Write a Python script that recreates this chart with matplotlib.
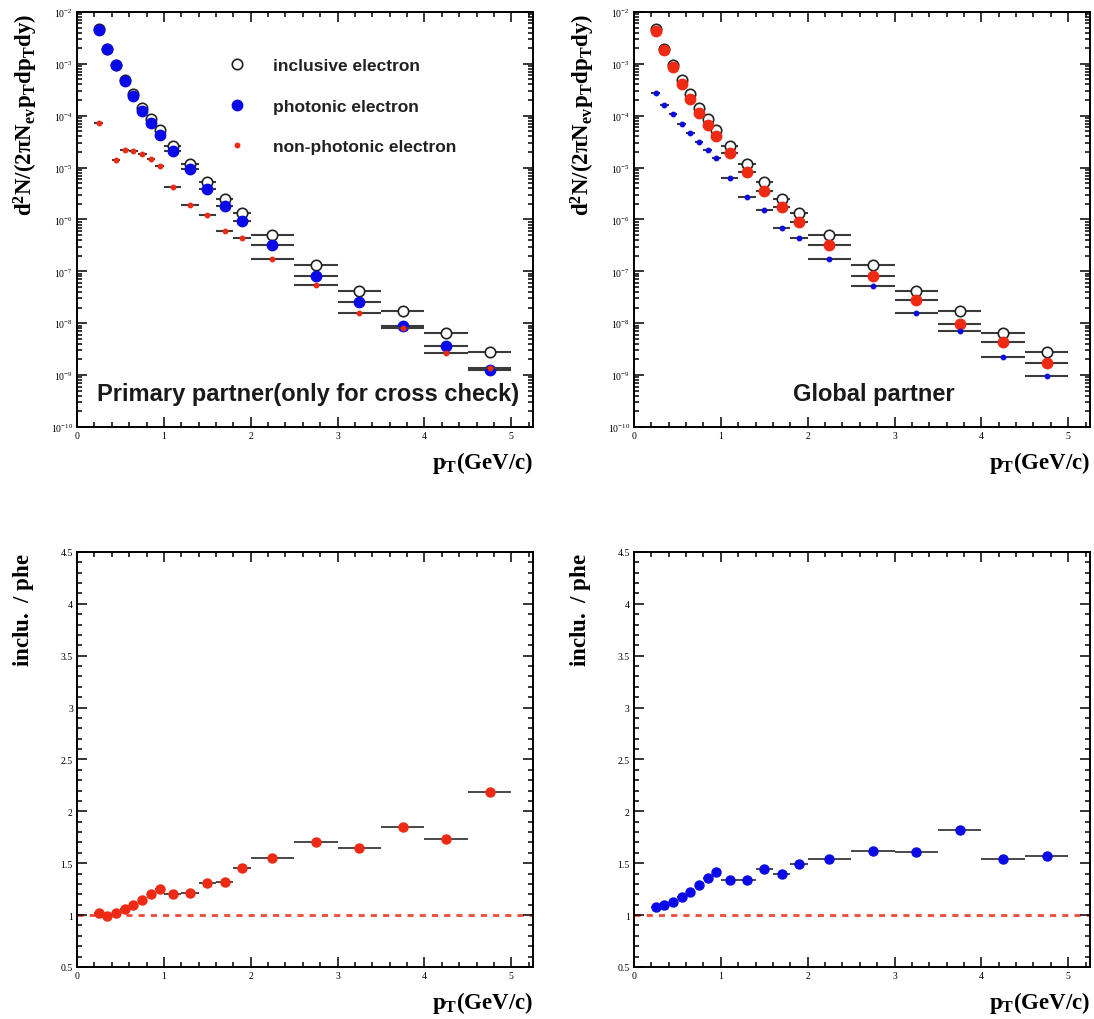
import numpy as np
import matplotlib
matplotlib.use("Agg")
import matplotlib.pyplot as plt
from matplotlib.lines import Line2D
from matplotlib.ticker import LogLocator, LogFormatterSciNotation, MultipleLocator, NullFormatter

plt.rcParams["mathtext.fontset"] = "custom"
plt.rcParams["mathtext.rm"] = "Liberation Serif:bold"
plt.rcParams["mathtext.it"] = "Liberation Serif:bold"
plt.rcParams["mathtext.bf"] = "Liberation Serif:bold"

# pT bin centres and half widths (GeV/c)
pt = [0.25, 0.35, 0.45, 0.55, 0.65, 0.75, 0.85, 0.95, 1.1, 1.3, 1.5, 1.7, 1.9,
      2.25, 2.75, 3.25, 3.75, 4.25, 4.75]
pt_half = [0.05, 0.05, 0.05, 0.05, 0.05, 0.05, 0.05, 0.05, 0.1, 0.1, 0.1, 0.1, 0.1,
           0.25, 0.25, 0.25, 0.25, 0.25, 0.25]

# spectra d2N/(2pi Nev pT dpT dy)
inclusive = [4.6e-3, 1.95e-3, 9.5e-4, 4.8e-4, 2.65e-4, 1.42e-4, 8.6e-5, 5.3e-5, 2.6e-5,
             1.15e-5, 5.3e-6, 2.5e-6, 1.32e-6, 5.0e-7, 1.35e-7, 4.2e-8, 1.7e-8, 6.6e-9, 2.8e-9]
phe_primary = [4.5e-3, 1.9e-3, 9.3e-4, 4.6e-4, 2.45e-4, 1.26e-4, 7.3e-5, 4.3e-5, 2.1e-5,
               9.2e-6, 3.9e-6, 1.85e-6, 9.2e-7, 3.2e-7, 8.1e-8, 2.6e-8, 8.8e-9, 3.7e-9, 1.28e-9]
npe_primary = [7.2e-5, np.nan, 1.4e-5, 2.2e-5, 2.05e-5, 1.8e-5, 1.47e-5, 1.05e-5, 4.2e-6,
               1.86e-6, 1.23e-6, 5.9e-7, 4.3e-7, 1.74e-7, 5.5e-8, 1.58e-8, 8.0e-9, 2.7e-9, 1.4e-9]
phe_global = [4.2e-3, 1.88e-3, 8.6e-4, 4.1e-4, 2.1e-4, 1.12e-4, 6.6e-5, 4.1e-5, 1.9e-5,
              8.1e-6, 3.6e-6, 1.74e-6, 8.9e-7, 3.2e-7, 8.3e-8, 2.75e-8, 9.7e-9, 4.4e-9, 1.74e-9]
npe_global = [2.8e-4, 1.63e-4, 1.07e-4, 6.9e-5, 4.55e-5, 3.06e-5, 2.19e-5, 1.51e-5, 6.3e-6,
              2.7e-6, 1.55e-6, 6.8e-7, 4.3e-7, 1.74e-7, 5.2e-8, 1.58e-8, 7.2e-9, 2.2e-9, 9.8e-10]

# inclusive / photonic ratios
ratio_primary = [1.02, 0.99, 1.02, 1.06, 1.10, 1.15, 1.205, 1.25, 1.20, 1.21, 1.31, 1.32,
                 1.45, 1.55, 1.70, 1.645, 1.85, 1.735, 2.19]
ratio_global = [1.08, 1.10, 1.13, 1.17, 1.22, 1.29, 1.36, 1.42, 1.34, 1.34, 1.44, 1.40,
                1.49, 1.54, 1.62, 1.61, 1.82, 1.54, 1.57]

BLUE = "#0a0ae8"
RED = "#ee2a14"
ECOL = "#3a3a3a"
SERIF = "Liberation Serif"
SANS = "Liberation Sans"

fig = plt.figure(figsize=(10.94, 10.2), dpi=100)
axw, axh = 0.4168, 0.4069
ax_tl = fig.add_axes([0.0704, 0.5804, axw, axh])
ax_tr = fig.add_axes([0.5795, 0.5804, axw, axh])
ax_bl = fig.add_axes([0.0704, 0.0510, axw, axh])
ax_br = fig.add_axes([0.5795, 0.0510, axw, axh])


def style(ax, log):
    ax.set_xlim(0, 5.25)
    ax.xaxis.set_major_locator(MultipleLocator(1))
    ax.xaxis.set_minor_locator(MultipleLocator(0.2))
    if log:
        ax.set_yscale("log")
        ax.set_ylim(1e-10, 1e-2)
        ax.yaxis.set_major_locator(LogLocator(base=10, numticks=20))
        ax.yaxis.set_minor_locator(LogLocator(base=10, subs=np.arange(2, 10), numticks=20))
        ax.yaxis.set_major_formatter(LogFormatterSciNotation())
        ax.yaxis.set_minor_formatter(NullFormatter())
    else:
        ax.set_ylim(0.5, 4.5)
        ax.yaxis.set_major_locator(MultipleLocator(0.5))
        ax.yaxis.set_minor_locator(MultipleLocator(0.1))
        ax.yaxis.set_major_formatter(lambda v, p: f"{v:g}")
    ax.tick_params(which="both", direction="in", top=True, right=True, width=1.1, pad=3)
    ax.tick_params(which="major", length=7, labelsize=7)
    ax.tick_params(which="minor", length=3.5)
    for lab in ax.get_xticklabels() + ax.get_yticklabels():
        lab.set_family(SERIF)
    for sp in ax.spines.values():
        sp.set_linewidth(1.4)
    ax.text(1.0, -0.085, r"$\mathrm{p_{T}(GeV/c)}$", transform=ax.transAxes,
            ha="right", va="center", fontsize=16.5)


def spectra(ax, phe, npe, phe_col, npe_col):
    ax.errorbar(pt, inclusive, xerr=pt_half, fmt="o", ms=7.5, mfc="white", mec="#222222",
                mew=1.2, ecolor=ECOL, elinewidth=1.5, capsize=0, zorder=2)
    ax.errorbar(pt, phe, xerr=pt_half, fmt="o", ms=7.5, mfc=phe_col, mec=phe_col,
                ecolor=ECOL, elinewidth=1.5, capsize=0, zorder=3)
    ax.errorbar(pt, npe, xerr=pt_half, fmt="o", ms=3.2, mfc=npe_col, mec=npe_col,
                ecolor=ECOL, elinewidth=1.5, capsize=0, zorder=4)
    ax.text(-0.112, 0.998, r"$\mathrm{d^{2}N/(2\pi N_{ev}p_{T}dp_{T}dy)}$", transform=ax.transAxes,
            rotation=90, ha="center", va="top", fontsize=16.5)


def ratio(ax, vals, col):
    ax.axhline(1.0, color=RED, lw=2.0, ls=(0, (2.2, 2.2)), alpha=0.85, zorder=1)
    ax.errorbar(pt, vals, xerr=pt_half, fmt="o", ms=6.5, mfc=col, mec=col,
                ecolor=ECOL, elinewidth=1.3, capsize=0, zorder=3)
    ax.text(-0.118, 1.0, r"$\mathrm{inclu.\ /\ phe}$", transform=ax.transAxes,
            rotation=90, ha="center", va="top", fontsize=16.5)


spectra(ax_tl, phe_primary, npe_primary, BLUE, RED)
spectra(ax_tr, phe_global, npe_global, RED, BLUE)
ratio(ax_bl, ratio_primary, RED)
ratio(ax_br, ratio_global, BLUE)
for a, lg in [(ax_tl, True), (ax_tr, True), (ax_bl, False), (ax_br, False)]:
    style(a, lg)

handles = [
    Line2D([], [], ls="none", marker="o", ms=7.5, mfc="white", mec="#222222", mew=1.2),
    Line2D([], [], ls="none", marker="o", ms=7.5, mfc=BLUE, mec=BLUE),
    Line2D([], [], ls="none", marker="o", ms=3.2, mfc=RED, mec=RED),
]
ax_tl.legend(handles, ["inclusive electron", "photonic electron", "non-photonic electron"],
             loc="upper left", bbox_to_anchor=(0.297, 0.926), frameon=False,
             labelspacing=1.45, handlelength=1.0, handletextpad=1.6,
             prop={"family": SANS, "weight": "bold", "size": 12.5}, labelcolor="#222222")

ax_tl.text(0.044, 0.08, "Primary partner(only for cross check)", transform=ax_tl.transAxes,
           ha="left", va="center", fontsize=17, fontweight="bold", family=SANS, color="#1a1a1a")
ax_tr.text(0.349, 0.08, "Global partner", transform=ax_tr.transAxes,
           ha="left", va="center", fontsize=17, fontweight="bold", family=SANS, color="#1a1a1a")

fig.savefig("out.png", dpi=100)
